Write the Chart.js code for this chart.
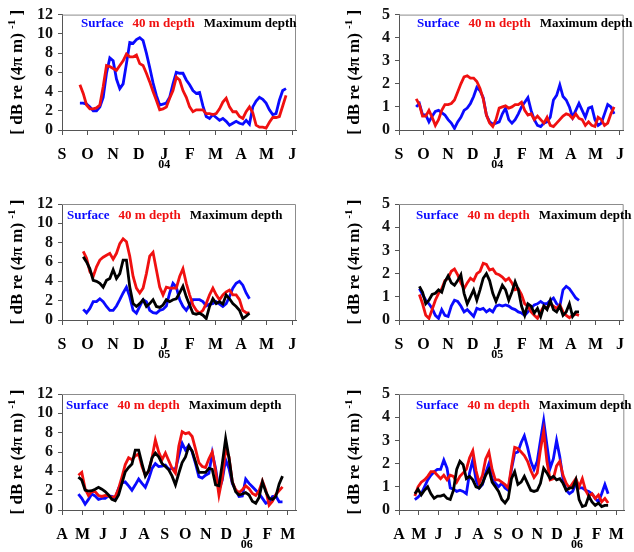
<!DOCTYPE html>
<html>
<head>
<meta charset="utf-8">
<script src="https://cdn.jsdelivr.net/npm/chart.js@4.4.1/dist/chart.umd.min.js"></script>
<style>
  body { margin: 0; background: #fff; }
  #wrap { position: relative; width: 634px; height: 552px; overflow: hidden; }
  canvas { position: absolute; }
</style>
</head>
<body>
<div id="wrap">
  <canvas id="c1" width="317" height="180" style="left:0;top:0"></canvas>
  <canvas id="c2" width="317" height="180" style="left:317px;top:0"></canvas>
  <canvas id="c3" width="317" height="185" style="left:0;top:180px"></canvas>
  <canvas id="c4" width="317" height="185" style="left:317px;top:180px"></canvas>
  <canvas id="c5" width="317" height="187" style="left:0;top:365px"></canvas>
  <canvas id="c6" width="317" height="187" style="left:317px;top:365px"></canvas>
</div>
<script>
// month labels, x = months since the first label
const monthsSep = ['S', 'O', 'N', 'D', 'J', 'F', 'M', 'A', 'M', 'J'];
const monthsApr = ['A', 'M', 'J', 'J', 'A', 'S', 'O', 'N', 'D', 'J', 'F', 'M'];
const seriesNames = ['Surface', '40 m depth', 'Maximum depth'];

// 2003-04 season, sampled every 0.13 month from 0.70
const p1Start = 0.70, p1Step = 0.13;
const p1Surface = [2.8,2.8,2.7,2.4,2.0,2.0,2.4,3.4,5.9,7.5, 7.2,5.3,4.3,4.8,6.9,9.1,9.0,9.4,9.6,9.3,
  8.0,6.5,4.9,3.6,2.6,2.7,2.8,3.4,4.8,6.0, 5.9,5.9,5.2,4.7,4.1,3.8,3.9,2.5,1.4,1.2,
  1.6,1.3,1.0,1.2,0.9,0.5,0.7,0.9,0.7,0.6, 1.0,0.6,2.4,3.0,3.4,3.2,2.8,2.1,1.6,1.7, 3.1,4.1,4.3];
const p1Depth40 = [4.7,3.8,2.6,2.2,2.2,2.3,2.6,4.5,6.7,6.6, 6.4,6.2,6.7,7.2,7.9,7.6,7.6,7.8,6.9,6.7,
  5.9,5.0,4.0,3.1,2.1,2.2,2.4,3.3,4.1,5.5, 5.2,4.1,3.4,2.4,1.9,2.1,2.1,2.1,1.7,1.7,
  1.6,1.7,2.2,2.9,3.3,2.4,1.9,1.9,1.4,1.2, 1.9,2.4,1.8,0.5,0.3,0.3,0.2,0.8,1.3,1.3, 1.4,2.5,3.6];

const p2Start = 0.70, p2Step = 0.13;
const p2Surface = [1.0,1.15,0.65,0.65,0.35,0.6,0.8,0.85,0.75,0.65, 0.45,0.3,0.07,0.35,0.55,0.85,0.95,1.15,1.45,1.85,
  1.7,1.4,0.65,0.35,0.25,0.3,0.35,0.7,0.95,0.45, 0.3,0.45,0.7,1.0,1.2,1.4,0.85,0.45,0.2,0.15,
  0.3,0.35,0.55,1.3,1.5,1.95,1.45,1.3,1.0,0.55, 0.85,1.15,0.85,0.55,0.95,1.0,0.45,0.2,0.3,0.7, 1.1,1.0,0.7];
const p2Depth40 = [1.35,1.1,0.6,0.6,0.85,0.55,0.2,0.45,0.85,1.1, 1.1,1.15,1.3,1.65,2.0,2.3,2.35,2.25,2.25,2.1,
  1.8,1.35,0.65,0.3,0.15,0.45,0.95,1.0,1.05,0.95, 1.0,1.1,1.1,1.2,0.85,0.65,0.7,0.45,0.6,0.45,
  0.3,0.55,0.2,0.15,0.3,0.45,0.6,0.7,0.65,0.5, 0.7,0.5,0.45,0.2,0.35,0.2,0.15,0.55,0.45,0.2, 0.3,0.7,1.0];

// 2004-05 season
const p3Start = 0.83, p3Step = 0.13;
const p3Surface = [1.1,0.75,1.2,1.9,1.9,2.2,1.9,1.4,1.0,1.0, 1.45,2.1,2.8,3.4,2.4,1.0,0.7,1.4,2.1,1.9,
  1.0,0.75,0.7,1.0,1.1,1.45,2.8,3.8,3.4,2.1, 1.4,1.0,1.55,2.1,2.1,2.1,1.9,1.45,1.65,1.7,
  1.9,1.65,1.4,1.7,2.4,3.3,3.8,4.0,3.6,2.8, 2.2];
const p3Depth40 = [7.1,6.4,5.0,4.5,5.5,6.2,6.5,6.7,6.9,6.3, 6.9,7.9,8.4,8.1,6.6,4.5,3.3,2.8,3.3,4.8,
  6.6,7.0,5.2,3.4,2.6,3.4,3.3,3.3,3.3,4.5, 5.3,3.8,2.6,1.55,1.0,0.7,1.0,1.7,2.6,3.3,
  2.6,2.1,2.6,2.9,3.1,2.6,2.6,2.1,1.0,0.75, 0.7];
const p3MaxDepth = [6.55,6.0,5.3,4.1,4.0,3.8,3.4,4.1,4.3,5.2, 4.3,4.8,6.2,6.2,3.4,1.7,1.4,1.7,2.1,1.4,
  1.7,2.1,1.4,1.3,1.55,2.1,1.9,2.1,2.2,2.8, 3.5,2.4,1.55,0.7,0.6,0.7,0.5,0.15,1.4,2.2,
  1.7,1.9,1.65,2.6,2.2,1.7,1.4,1.0,0.15,0.4, 0.7];

const p4Start = 0.83, p4Step = 0.13;
const p4Surface = [1.35,1.1,0.85,0.7,0.5,0.2,0.07,0.45,0.2,0.15, 0.6,0.85,0.8,0.6,0.35,0.45,0.3,0.15,0.5,0.45,
  0.5,0.35,0.45,0.35,0.6,0.65,0.6,0.65,0.6,0.5, 0.45,0.35,0.3,0.2,0.35,0.5,0.65,0.7,0.8,0.7,
  0.7,0.85,0.95,0.7,0.6,1.3,1.45,1.35,1.15,0.95, 0.85];
const p4Depth40 = [1.1,0.7,0.2,0.07,0.45,0.85,1.15,1.35,1.7,1.8, 2.1,2.2,1.95,1.6,1.35,1.6,1.8,1.7,2.0,2.1,
  2.45,2.4,2.15,2.2,2.0,1.95,1.85,1.7,1.8,1.6, 1.3,1.35,1.1,0.7,0.6,0.35,0.2,0.07,0.35,0.6,
  0.5,0.7,0.6,0.5,0.65,0.35,0.2,0.1,0.2,0.25, 0.2];
const p4MaxDepth = [1.45,1.2,0.7,0.85,1.1,1.15,1.3,1.2,1.65,1.9, 1.6,1.5,1.7,1.95,1.15,0.7,1.0,1.3,0.85,1.3,
  1.8,2.0,1.7,1.15,0.8,1.15,1.5,1.3,0.85,1.2, 1.65,1.3,0.6,0.2,0.7,0.6,0.3,0.5,0.15,0.6,
  0.45,0.85,0.45,0.35,0.6,0.2,0.35,0.7,0.15,0.35, 0.35];

// 2005-06 season, x = months since April
const p5Start = 0.80, p5Step = 0.163;
const p5Surface = [1.65,1.2,0.6,1.1,1.65,1.45,1.1,1.2,1.2,1.45, 1.4,1.2,2.25,2.8,2.9,2.5,2.05,2.6,3.2,2.75,
  2.35,3.2,4.3,4.8,4.5,4.55,4.65,4.2,4.3,4.2, 5.6,6.9,6.2,6.7,6.0,4.8,3.45,3.3,3.6,3.8,
  5.9,4.3,2.05,3.1,5.2,4.3,2.75,2.05,1.4,1.45, 3.2,2.75,2.4,2.05,1.7,1.2,0.7,0.85,1.4,1.45, 0.85,0.85];
const p5Depth40 = [3.6,3.9,2.2,1.5,1.9,1.9,1.5,1.4,1.5,1.45, 1.3,1.4,2.2,3.4,4.7,5.4,5.2,5.6,5.8,4.5,
  3.6,4.0,5.4,7.25,6.0,5.2,5.9,5.1,4.3,3.8, 6.6,8.1,7.9,8.0,7.6,6.3,4.9,4.5,4.4,5.3,
  6.0,4.0,1.55,3.3,6.3,5.5,2.9,2.1,1.8,2.1, 2.5,2.2,1.7,1.5,2.0,3.0,2.05,0.5,0.9,1.6, 2.0,2.4];
const p5MaxDepth = [3.4,3.1,2.05,1.95,2.0,2.15,2.35,2.15,1.9,1.55, 1.1,0.95,1.55,2.75,3.95,4.4,4.75,6.2,6.2,4.8,
  3.5,4.1,5.4,5.9,5.5,4.8,4.5,4.15,3.5,2.6, 3.8,4.9,5.5,6.6,6.1,5.0,3.9,3.9,3.9,4.3,
  4.2,2.6,2.5,4.8,7.4,5.4,2.9,1.9,1.55,1.65, 1.8,1.55,0.9,0.7,1.3,2.9,1.9,1.2,1.1,1.4, 2.7,3.5];

const p6Start = 0.80, p6Step = 0.163;
const p6Surface = [0.45,0.55,0.7,1.0,1.3,1.5,1.65,1.75,1.75,2.15, 1.8,0.95,0.9,0.8,0.85,0.8,0.7,1.6,2.15,1.3,
  0.95,1.1,1.6,2.0,1.35,1.15,1.0,1.15,0.95,0.85, 1.75,2.45,2.5,2.9,3.2,2.7,2.1,1.75,2.1,3.0,
  3.85,2.8,1.8,2.2,3.0,2.3,1.35,0.85,0.7,0.8, 1.15,0.95,0.95,0.85,0.8,0.7,0.5,0.35,0.7,1.1, 0.7];
const p6Depth40 = [0.6,1.0,1.2,1.3,1.45,1.65,1.65,1.5,1.35,1.5, 1.3,1.5,1.45,1.2,1.45,1.6,1.75,2.25,2.55,1.7,
  1.15,1.5,2.2,2.5,1.75,1.3,1.3,1.2,1.1,0.95, 1.85,2.7,2.65,2.5,2.35,2.1,1.7,1.4,1.6,2.6,
  3.4,2.1,1.3,1.35,1.9,2.1,1.5,1.15,0.95,1.15, 1.35,1.0,1.35,0.85,0.6,0.7,0.5,0.65,0.35,0.5, 0.3];
const p6MaxDepth = [0.7,0.9,0.65,0.85,1.0,0.7,0.5,0.6,0.6,0.65, 0.5,0.45,0.85,1.75,2.1,1.95,1.35,1.45,1.3,1.0,
  0.95,1.15,1.5,1.75,1.2,1.0,0.8,0.45,0.3,0.5, 1.35,1.65,1.1,1.2,1.45,1.15,0.85,0.8,0.85,1.15,
  1.8,1.6,1.35,1.45,1.3,1.35,1.15,0.85,0.95,0.95, 1.3,0.45,0.15,0.2,0.6,0.35,0.2,0.3,0.15,0.2, 0.2];

const serif = '"Liberation Serif", "Times New Roman", serif';
const colors = ['#0a0aff', '#f01010', '#000000'];

// frame, in-plot legend, year label and the rotated unit title
const extrasPlugin = {
  id: 'extras',
  afterDraw(chart, args, opts) {
    const ctx = chart.ctx, a = chart.chartArea;
    ctx.save();
    ctx.strokeStyle = '#8c8c8c';
    ctx.lineWidth = 1;
    ctx.beginPath();
    ctx.moveTo(a.left, a.top + 0.5);
    ctx.lineTo(a.right - 0.5, a.top + 0.5);
    ctx.lineTo(a.right - 0.5, a.bottom);
    ctx.stroke();

    ctx.font = 'bold 13px ' + serif;
    ctx.textBaseline = 'middle';
    let x = a.left + opts.legendX;
    chart.data.datasets.forEach(ds => {
      ctx.fillStyle = ds.borderColor;
      ctx.fillText(ds.label, x, a.top + opts.legendY);
      x += ctx.measureText(ds.label).width + 9;
    });

    ctx.font = 'bold 12px ' + serif;
    ctx.fillStyle = '#000';
    ctx.textAlign = 'center';
    ctx.fillText(opts.year, chart.scales.x.getPixelForValue(opts.yearAt), a.bottom + 35);

    // [ dB re (4π m) -1 ]
    const big = 'bold 17px ' + serif, small = 'bold 11px ' + serif;
    const parts = [['[ dB re (4\u03c0 m) ', big, 0], ['-1', small, -7], [' ]', big, 0]];
    ctx.translate(a.left - 40, (a.top + a.bottom) / 2);
    ctx.rotate(-Math.PI / 2);
    ctx.textAlign = 'left';
    ctx.textBaseline = 'alphabetic';
    let total = 0;
    parts.forEach(p => { ctx.font = p[1]; total += ctx.measureText(p[0]).width; });
    let tx = -total / 2;
    parts.forEach(p => {
      ctx.font = p[1];
      ctx.fillText(p[0], tx, p[2]);
      tx += ctx.measureText(p[0]).width;
    });
    ctx.restore();
  }
};

function toPoints(values, start, step) {
  return values.map((v, i) => ({ x: start + i * step, y: v }));
}

function makePanel(id, p) {
  const tickFont = { family: serif, size: 16, weight: 'bold' };
  new Chart(document.getElementById(id), {
    type: 'line',
    data: {
      datasets: p.series.map((vals, i) => ({
        label: seriesNames[i],
        data: toPoints(vals, p.start, p.step),
        borderColor: colors[i],
        borderWidth: 2.8,
        pointRadius: 0,
        tension: 0,
        fill: false,
        order: 3 - i
      }))
    },
    options: {
      responsive: false,
      animation: false,
      devicePixelRatio: 1,
      layout: { padding: p.pad, autoPadding: false },
      plugins: {
        legend: { display: false },
        tooltip: { enabled: false },
        extras: { legendX: p.legend[0], legendY: p.legend[1], year: p.year, yearAt: p.yearAt }
      },
      scales: {
        x: {
          type: 'linear', min: 0, max: p.xMax,
          afterFit: s => { s.height = 40; },
          border: { color: '#555' },
          grid: { drawOnChartArea: false, tickLength: 5, color: '#555' },
          ticks: {
            stepSize: 1, includeBounds: false, autoSkip: false, maxRotation: 0,
            padding: 10, color: '#000', font: tickFont,
            callback: v => Number.isInteger(v) ? (p.months[v] || '') : ''
          }
        },
        y: {
          min: 0, max: p.yMax,
          afterFit: s => { s.width = 40; },
          border: { color: '#555' },
          grid: { drawOnChartArea: false, tickLength: 4, color: '#555' },
          ticks: { stepSize: p.yStep, autoSkip: false, padding: 5, color: '#111', font: tickFont }
        }
      }
    },
    plugins: [extrasPlugin]
  });
}

const padL = { left: 22, right: 21 }, padR = { left: 42, right: 1 };

makePanel('c1', { series: [p1Surface, p1Depth40, []], start: p1Start, step: p1Step,
  months: monthsSep, xMax: 9.15, yMax: 12, yStep: 2, year: '04', yearAt: 4,
  legend: [19, 9], pad: { ...padL, top: 14, bottom: 10 } });
makePanel('c2', { series: [p2Surface, p2Depth40, []], start: p2Start, step: p2Step,
  months: monthsSep, xMax: 9.15, yMax: 5, yStep: 1, year: '04', yearAt: 4,
  legend: [18, 9], pad: { ...padR, top: 14, bottom: 10 } });
makePanel('c3', { series: [p3Surface, p3Depth40, p3MaxDepth], start: p3Start, step: p3Step,
  months: monthsSep, xMax: 9.15, yMax: 12, yStep: 2, year: '05', yearAt: 4,
  legend: [5, 12], pad: { ...padL, top: 24, bottom: 5 } });
makePanel('c4', { series: [p4Surface, p4Depth40, p4MaxDepth], start: p4Start, step: p4Step,
  months: monthsSep, xMax: 9.15, yMax: 5, yStep: 1, year: '05', yearAt: 4,
  legend: [17, 12], pad: { ...padR, top: 24, bottom: 5 } });
makePanel('c5', { series: [p5Surface, p5Depth40, p5MaxDepth], start: p5Start, step: p5Step,
  months: monthsApr, xMax: 11.4, yMax: 12, yStep: 2, year: '06', yearAt: 9,
  legend: [4, 12], pad: { ...padL, top: 29, bottom: 2 } });
makePanel('c6', { series: [p6Surface, p6Depth40, p6MaxDepth], start: p6Start, step: p6Step,
  months: monthsApr, xMax: 11.4, yMax: 5, yStep: 1, year: '06', yearAt: 9,
  legend: [17, 12], pad: { ...padR, top: 29, bottom: 2 } });
</script>
</body>
</html>
